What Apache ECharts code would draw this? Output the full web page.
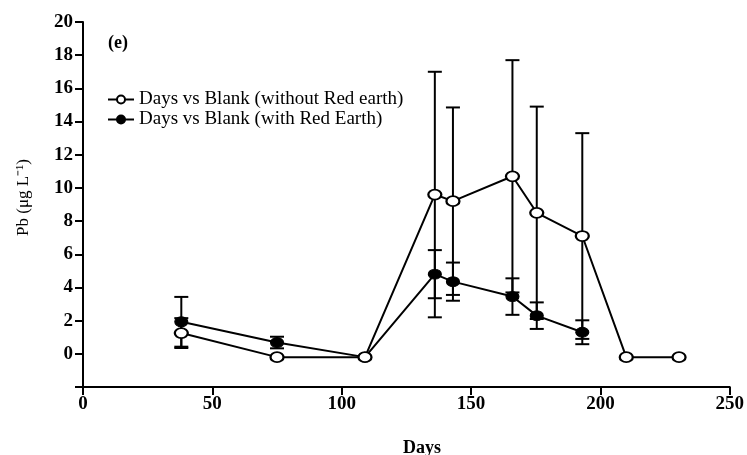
<!DOCTYPE html>
<html><head><meta charset="utf-8">
<script src="https://cdn.jsdelivr.net/npm/echarts@6/dist/echarts.min.js"></script>
<style>html,body{margin:0;padding:0;background:#fff}#c{width:747px;height:455px}</style>
</head><body><div id="c"></div>
<script>
var daysOpen = [38, 75, 109, 136, 143, 166, 175.4, 193, 210, 230.4];
var blankWithout = [1.25, -0.2, -0.2, 9.6, 9.2, 10.7, 8.5, 7.1, -0.2, -0.2];
var errWithout = [0.9, 0, 0, 7.4, 5.65, 7.0, 6.4, 6.2, 0, 0];
var daysFilled = [38, 75, 109, 136, 143, 166, 175.4, 193];
var blankWith = [1.93, 0.68, -0.2, 4.8, 4.35, 3.45, 2.3, 1.3];
var errWith = [1.5, 0.35, 0, 1.45, 1.15, 1.1, 0.8, 0.72];
var yTicks = [0, 2, 4, 6, 8, 10, 12, 14, 16, 18, 20];
var xTicks = [0, 50, 100, 150, 200, 250];
var nameWithout = 'Days vs Blank (without Red earth)';
var nameWith = 'Days vs Blank (with Red Earth)';

var FONT = 'Liberation Serif, Times New Roman, serif';
var ELL = 'path://M0 1A1 1 0 1 1 2 1A1 1 0 1 1 0 1Z';

function pairs(xs, ys) { return xs.map(function (x, i) { return [x, ys[i]]; }); }
function triples(xs, ys, es) { return xs.map(function (x, i) { return [x, ys[i], es[i]]; }); }

function errRender(params, api) {
  var e = api.value(2);
  if (!e) return null;
  var x = api.value(0), v = api.value(1);
  var hi = api.coord([x, v + e]);
  var lo = api.coord([x, v - e]);
  var hw = 7;
  var st = { stroke: '#000', lineWidth: 2 };
  return {
    type: 'group',
    children: [
      { type: 'line', shape: { x1: hi[0], y1: hi[1], x2: lo[0], y2: lo[1] }, style: st },
      { type: 'line', shape: { x1: hi[0] - hw, y1: hi[1], x2: hi[0] + hw, y2: hi[1] }, style: st },
      { type: 'line', shape: { x1: lo[0] - hw, y1: lo[1], x2: lo[0] + hw, y2: lo[1] }, style: st }
    ]
  };
}

var chart = echarts.init(document.getElementById('c'));
chart.setOption({
  animation: false,
  backgroundColor: '#fff',
  grid: { left: 83, right: 14, top: 22, bottom: 68, containLabel: false },
  legend: {
    data: [nameWithout, nameWith],
    orient: 'vertical',
    left: 102, top: 85,
    itemWidth: 26, itemHeight: 10, itemGap: 1,
    textStyle: { fontFamily: FONT, fontSize: 19, color: '#000', lineHeight: 19 }
  },
  xAxis: {
    type: 'value', min: 0, max: 250, interval: 50,
    axisLine: { onZero: false, lineStyle: { color: '#000', width: 2 } },
    axisTick: { length: 8, lineStyle: { color: '#000', width: 2 } },
    axisLabel: { fontFamily: FONT, fontWeight: 'bold', fontSize: 19, color: '#000', margin: 8 },
    splitLine: { show: false }
  },
  yAxis: {
    type: 'value', min: -2, max: 20, interval: 2,
    name: 'Pb (μg L⁻¹)', nameLocation: 'middle', nameRotate: 90, nameGap: 51,
    nameTextStyle: { fontFamily: FONT, fontSize: 17, color: '#000', padding: [0, 0, 0, 14] },
    axisLine: { lineStyle: { color: '#000', width: 2 } },
    axisTick: { length: 8, lineStyle: { color: '#000', width: 2 } },
    axisLabel: {
      fontFamily: FONT, fontWeight: 'bold', fontSize: 19, color: '#000', margin: 10,
      formatter: function (v) { return yTicks.indexOf(v) >= 0 ? String(v) : ''; }
    },
    splitLine: { show: false }
  },
  graphic: [
    { type: 'text', left: 108, top: 34, style: { text: '(e)', fontFamily: FONT, fontWeight: 'bold', fontSize: 18, fill: '#000' } },
    { type: 'text', left: 403, top: 439, style: { text: 'Days', fontFamily: FONT, fontWeight: 'bold', fontSize: 18, fill: '#000' } }
  ],
  series: [
    { type: 'custom', name: 'errWithout', renderItem: errRender, data: triples(daysOpen, blankWithout, errWithout), z: 1, silent: true },
    { type: 'custom', name: 'errWith', renderItem: errRender, data: triples(daysFilled, blankWith, errWith), z: 1, silent: true },
    {
      type: 'line', name: nameWith, data: pairs(daysFilled, blankWith), z: 3,
      symbol: ELL, symbolSize: [13, 10], showAllSymbol: true,
      lineStyle: { color: '#000', width: 2 },
      itemStyle: { color: '#000', borderColor: '#000', borderWidth: 1 }
    },
    {
      type: 'line', name: nameWithout, data: pairs(daysOpen, blankWithout), z: 4,
      symbol: ELL, symbolSize: [13, 10], showAllSymbol: true,
      lineStyle: { color: '#000', width: 2 },
      itemStyle: { color: '#fff', borderColor: '#000', borderWidth: 2 }
    }
  ]
});
</script>
</body></html>
